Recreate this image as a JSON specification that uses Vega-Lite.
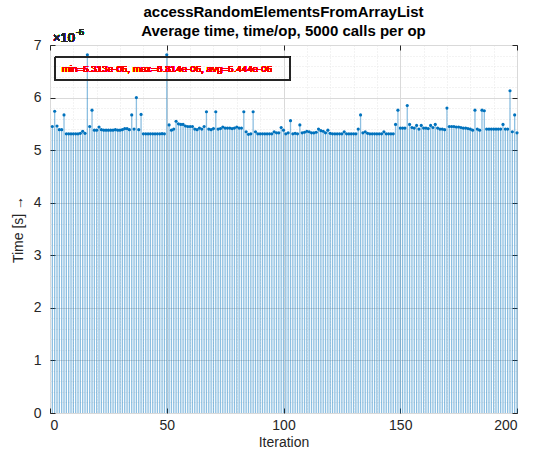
{
  "$schema": "https://vega.github.io/schema/vega-lite/v6.json",
  "width": 467,
  "height": 368,
  "autosize": "none",
  "padding": {"left": 50, "top": 45, "right": 30, "bottom": 50},
  "background": "white",
  "config": {
    "view": {"stroke": "#262626", "strokeWidth": 1},
    "font": "Liberation Sans"
  },
  "title": {
    "text": ["accessRandomElementsFromArrayList", "Average time, time/op, 5000 calls per op"],
    "font": "Liberation Sans",
    "fontSize": 15,
    "fontWeight": "bold",
    "color": "#000000",
    "lineHeight": 19,
    "offset": 6,
    "dy": 17,
    "anchor": "middle"
  },
  "data": {
    "values": [
      {"i":1,"t":5.45e-5},{"i":2,"t":5.74e-5},{"i":3,"t":5.46e-5},{"i":4,"t":5.39e-5},{"i":5,"t":5.39e-5},
      {"i":6,"t":5.67e-5},{"i":7,"t":5.31e-5},{"i":8,"t":5.31e-5},{"i":9,"t":5.31e-5},{"i":10,"t":5.31e-5},
      {"i":11,"t":5.31e-5},{"i":12,"t":5.31e-5},{"i":13,"t":5.32e-5},{"i":14,"t":5.36e-5},{"i":15,"t":5.32e-5},
      {"i":16,"t":6.814e-5},{"i":17,"t":5.45e-5},{"i":18,"t":5.76e-5},{"i":19,"t":5.38e-5},{"i":20,"t":5.38e-5},
      {"i":21,"t":5.44e-5},{"i":22,"t":5.39e-5},{"i":23,"t":5.38e-5},{"i":24,"t":5.38e-5},{"i":25,"t":5.38e-5},
      {"i":26,"t":5.38e-5},{"i":27,"t":5.38e-5},{"i":28,"t":5.39e-5},{"i":29,"t":5.38e-5},{"i":30,"t":5.38e-5},
      {"i":31,"t":5.39e-5},{"i":32,"t":5.41e-5},{"i":33,"t":5.41e-5},{"i":34,"t":5.39e-5},{"i":35,"t":5.67e-5},
      {"i":36,"t":5.40e-5},{"i":37,"t":6.00e-5},{"i":38,"t":5.39e-5},{"i":39,"t":5.68e-5},{"i":40,"t":5.31e-5},
      {"i":41,"t":5.31e-5},{"i":42,"t":5.31e-5},{"i":43,"t":5.31e-5},{"i":44,"t":5.31e-5},{"i":45,"t":5.31e-5},
      {"i":46,"t":5.31e-5},{"i":47,"t":5.31e-5},{"i":48,"t":5.313e-5},{"i":49,"t":5.31e-5},{"i":50,"t":6.814e-5},
      {"i":51,"t":5.48e-5},{"i":52,"t":5.38e-5},{"i":53,"t":5.40e-5},{"i":54,"t":5.55e-5},{"i":55,"t":5.50e-5},
      {"i":56,"t":5.49e-5},{"i":57,"t":5.49e-5},{"i":58,"t":5.46e-5},{"i":59,"t":5.45e-5},{"i":60,"t":5.45e-5},
      {"i":61,"t":5.45e-5},{"i":62,"t":5.40e-5},{"i":63,"t":5.39e-5},{"i":64,"t":5.42e-5},{"i":65,"t":5.40e-5},
      {"i":66,"t":5.45e-5},{"i":67,"t":5.73e-5},{"i":68,"t":5.40e-5},{"i":69,"t":5.39e-5},{"i":70,"t":5.41e-5},
      {"i":71,"t":5.73e-5},{"i":72,"t":5.40e-5},{"i":73,"t":5.41e-5},{"i":74,"t":5.44e-5},{"i":75,"t":5.42e-5},
      {"i":76,"t":5.42e-5},{"i":77,"t":5.42e-5},{"i":78,"t":5.41e-5},{"i":79,"t":5.42e-5},{"i":80,"t":5.44e-5},
      {"i":81,"t":5.42e-5},{"i":82,"t":5.42e-5},{"i":83,"t":5.73e-5},{"i":84,"t":5.35e-5},{"i":85,"t":5.30e-5},
      {"i":86,"t":5.31e-5},{"i":87,"t":5.73e-5},{"i":88,"t":5.35e-5},{"i":89,"t":5.31e-5},{"i":90,"t":5.31e-5},
      {"i":91,"t":5.31e-5},{"i":92,"t":5.31e-5},{"i":93,"t":5.31e-5},{"i":94,"t":5.31e-5},{"i":95,"t":5.31e-5},
      {"i":96,"t":5.35e-5},{"i":97,"t":5.33e-5},{"i":98,"t":5.33e-5},{"i":99,"t":5.43e-5},{"i":100,"t":5.38e-5},
      {"i":101,"t":5.31e-5},{"i":102,"t":5.33e-5},{"i":103,"t":5.56e-5},{"i":104,"t":5.31e-5},{"i":105,"t":5.32e-5},
      {"i":106,"t":5.31e-5},{"i":107,"t":5.48e-5},{"i":108,"t":5.33e-5},{"i":109,"t":5.34e-5},{"i":110,"t":5.36e-5},
      {"i":111,"t":5.35e-5},{"i":112,"t":5.33e-5},{"i":113,"t":5.33e-5},{"i":114,"t":5.34e-5},{"i":115,"t":5.40e-5},
      {"i":116,"t":5.37e-5},{"i":117,"t":5.36e-5},{"i":118,"t":5.33e-5},{"i":119,"t":5.38e-5},{"i":120,"t":5.32e-5},
      {"i":121,"t":5.31e-5},{"i":122,"t":5.31e-5},{"i":123,"t":5.31e-5},{"i":124,"t":5.31e-5},{"i":125,"t":5.31e-5},
      {"i":126,"t":5.35e-5},{"i":127,"t":5.31e-5},{"i":128,"t":5.31e-5},{"i":129,"t":5.31e-5},{"i":130,"t":5.31e-5},
      {"i":131,"t":5.31e-5},{"i":132,"t":5.40e-5},{"i":133,"t":5.67e-5},{"i":134,"t":5.33e-5},{"i":135,"t":5.35e-5},
      {"i":136,"t":5.32e-5},{"i":137,"t":5.31e-5},{"i":138,"t":5.31e-5},{"i":139,"t":5.31e-5},{"i":140,"t":5.31e-5},
      {"i":141,"t":5.31e-5},{"i":142,"t":5.31e-5},{"i":143,"t":5.35e-5},{"i":144,"t":5.31e-5},{"i":145,"t":5.31e-5},
      {"i":146,"t":5.31e-5},{"i":147,"t":5.31e-5},{"i":148,"t":5.49e-5},{"i":149,"t":5.76e-5},{"i":150,"t":5.42e-5},
      {"i":151,"t":5.42e-5},{"i":152,"t":5.42e-5},{"i":153,"t":5.85e-5},{"i":154,"t":5.49e-5},{"i":155,"t":5.43e-5},
      {"i":156,"t":5.42e-5},{"i":157,"t":5.47e-5},{"i":158,"t":5.40e-5},{"i":159,"t":5.47e-5},{"i":160,"t":5.42e-5},
      {"i":161,"t":5.42e-5},{"i":162,"t":5.41e-5},{"i":163,"t":5.47e-5},{"i":164,"t":5.43e-5},{"i":165,"t":5.49e-5},
      {"i":166,"t":5.42e-5},{"i":167,"t":5.40e-5},{"i":168,"t":5.40e-5},{"i":169,"t":5.39e-5},{"i":170,"t":5.80e-5},
      {"i":171,"t":5.45e-5},{"i":172,"t":5.45e-5},{"i":173,"t":5.45e-5},{"i":174,"t":5.44e-5},{"i":175,"t":5.44e-5},
      {"i":176,"t":5.43e-5},{"i":177,"t":5.42e-5},{"i":178,"t":5.42e-5},{"i":179,"t":5.41e-5},{"i":180,"t":5.40e-5},
      {"i":181,"t":5.38e-5},{"i":182,"t":5.76e-5},{"i":183,"t":5.40e-5},{"i":184,"t":5.38e-5},{"i":185,"t":5.76e-5},
      {"i":186,"t":5.75e-5},{"i":187,"t":5.40e-5},{"i":188,"t":5.40e-5},{"i":189,"t":5.40e-5},{"i":190,"t":5.40e-5},
      {"i":191,"t":5.40e-5},{"i":192,"t":5.40e-5},{"i":193,"t":5.40e-5},{"i":194,"t":5.49e-5},{"i":195,"t":5.40e-5},
      {"i":196,"t":5.40e-5},{"i":197,"t":6.13e-5},{"i":198,"t":5.35e-5},{"i":199,"t":5.67e-5},{"i":200,"t":5.33e-5}
    ]
  },
  "layer": [
    {
      "mark": {"type": "rule", "color": "#0072BD", "strokeWidth": 1.3, "opacity": 0.45},
      "encoding": {
        "x": {
          "field": "i", "type": "quantitative",
          "scale": {"domain": [0, 200], "nice": false},
          "axis": {
            "values": [0,10,20,30,40,50,60,70,80,90,100,110,120,130,140,150,160,170,180,190,200],
            "labelExpr": "datum.value % 50 === 0 ? datum.label : ''",
            "grid": true,
            "gridColor": {"condition": {"test": "datum.value % 50 === 0", "value": "#d9d9d9"}, "value": "#e6e6e6"},
            "gridDash": {"condition": {"test": "datum.value % 50 === 0", "value": []}, "value": [1, 2]},
            "tickOpacity": {"condition": {"test": "datum.value % 50 === 0", "value": 1}, "value": 0},
            "tickSize": -5,
            "tickColor": "#262626",
            "domain": false,
            "labelFont": "Liberation Sans",
            "labelFontSize": 14,
            "labelColor": "#262626",
            "labelPadding": 10,
            "title": "Iteration",
            "titleFont": "Liberation Sans",
            "titleFontSize": 14,
            "titleFontWeight": "normal",
            "titleColor": "#262626",
            "titlePadding": 3
          }
        },
        "y": {
          "field": "t", "type": "quantitative",
          "scale": {"domain": [0, 0.00007], "nice": false},
          "axis": {
            "values": [0,0.000002,0.000004,0.000006,0.000008,0.00001,0.000012,0.000014,0.000016,0.000018,0.00002,0.000022,0.000024,0.000026,0.000028,0.00003,0.000032,0.000034,0.000036,0.000038,0.00004,0.000042,0.000044,0.000046,0.000048,0.00005,0.000052,0.000054,0.000056,0.000058,0.00006,0.000062,0.000064,0.000066,0.000068,0.00007],
            "labelExpr": "abs(datum.value*1e5 - round(datum.value*1e5)) < 0.01 ? format(round(datum.value*1e5), 'd') : ''",
            "grid": true,
            "gridColor": {"condition": {"test": "abs(datum.value*1e5 - round(datum.value*1e5)) < 0.01", "value": "#d9d9d9"}, "value": "#e6e6e6"},
            "gridDash": {"condition": {"test": "abs(datum.value*1e5 - round(datum.value*1e5)) < 0.01", "value": []}, "value": [1, 2]},
            "tickOpacity": {"condition": {"test": "abs(datum.value*1e5 - round(datum.value*1e5)) < 0.01", "value": 1}, "value": 0},
            "tickSize": -5,
            "tickColor": "#262626",
            "domain": false,
            "labelFont": "Liberation Sans",
            "labelFontSize": 14,
            "labelColor": "#262626",
            "labelPadding": 14,
            "title": "Time [s] →",
            "titleFont": "Liberation Sans",
            "titleFontSize": 14,
            "titleFontWeight": "normal",
            "titleColor": "#262626",
            "titlePadding": 8
          }
        },
        "y2": {"datum": 0}
      }
    },
    {
      "mark": {"type": "point", "filled": true, "color": "#0072BD", "size": 10, "opacity": 1},
      "encoding": {
        "x": {
          "field": "i", "type": "quantitative",
          "axis": {"orient": "top", "values": [0,50,100,150,200], "labels": false, "grid": false, "domain": false, "tickSize": -5, "tickColor": "#262626", "title": null}
        },
        "y": {
          "field": "t", "type": "quantitative",
          "axis": {"orient": "right", "values": [0,0.00001,0.00002,0.00003,0.00004,0.00005,0.00006,0.00007], "labels": false, "grid": false, "domain": false, "tickSize": -5, "tickColor": "#262626", "title": null}
        }
      }
    },
    {
      "mark": {"type": "rect", "fill": null, "fillOpacity": 0, "stroke": "#262626", "strokeWidth": 1},
      "encoding": {
        "x": {"datum": 2.2, "type": "quantitative", "axis": null},
        "x2": {"datum": 102.8},
        "y": {"datum": 0.0000677, "type": "quantitative", "axis": null},
        "y2": {"datum": 0.0000633}
      }
    },
    {
      "mark": {"type": "text", "color": "#ff0000", "font": "Liberation Sans", "fontSize": 9.8, "align": "left", "baseline": "middle"},
      "encoding": {
        "x": {"datum": 5, "type": "quantitative", "axis": null},
        "y": {"datum": 0.0000655, "type": "quantitative", "axis": null},
        "text": {"value": "min=5.313e-05, max=6.814e-05, avg=5.444e-05"}
      }
    },
    {
      "mark": {"type": "text", "color": "#262626", "font": "Liberation Sans", "fontSize": 13, "align": "left", "baseline": "alphabetic", "dx": 3, "dy": -3},
      "encoding": {
        "x": {"datum": 0, "type": "quantitative", "axis": null},
        "y": {"datum": 0.00007, "type": "quantitative", "axis": null},
        "text": {"value": "×10"}
      }
    },
    {
      "mark": {"type": "text", "color": "#262626", "font": "Liberation Sans", "fontSize": 9, "align": "left", "baseline": "alphabetic", "dx": 26, "dy": -10},
      "encoding": {
        "x": {"datum": 0, "type": "quantitative", "axis": null},
        "y": {"datum": 0.00007, "type": "quantitative", "axis": null},
        "text": {"value": "-5"}
      }
    }
  ],
  "resolve": {"axis": {"x": "independent", "y": "independent"}}
}
